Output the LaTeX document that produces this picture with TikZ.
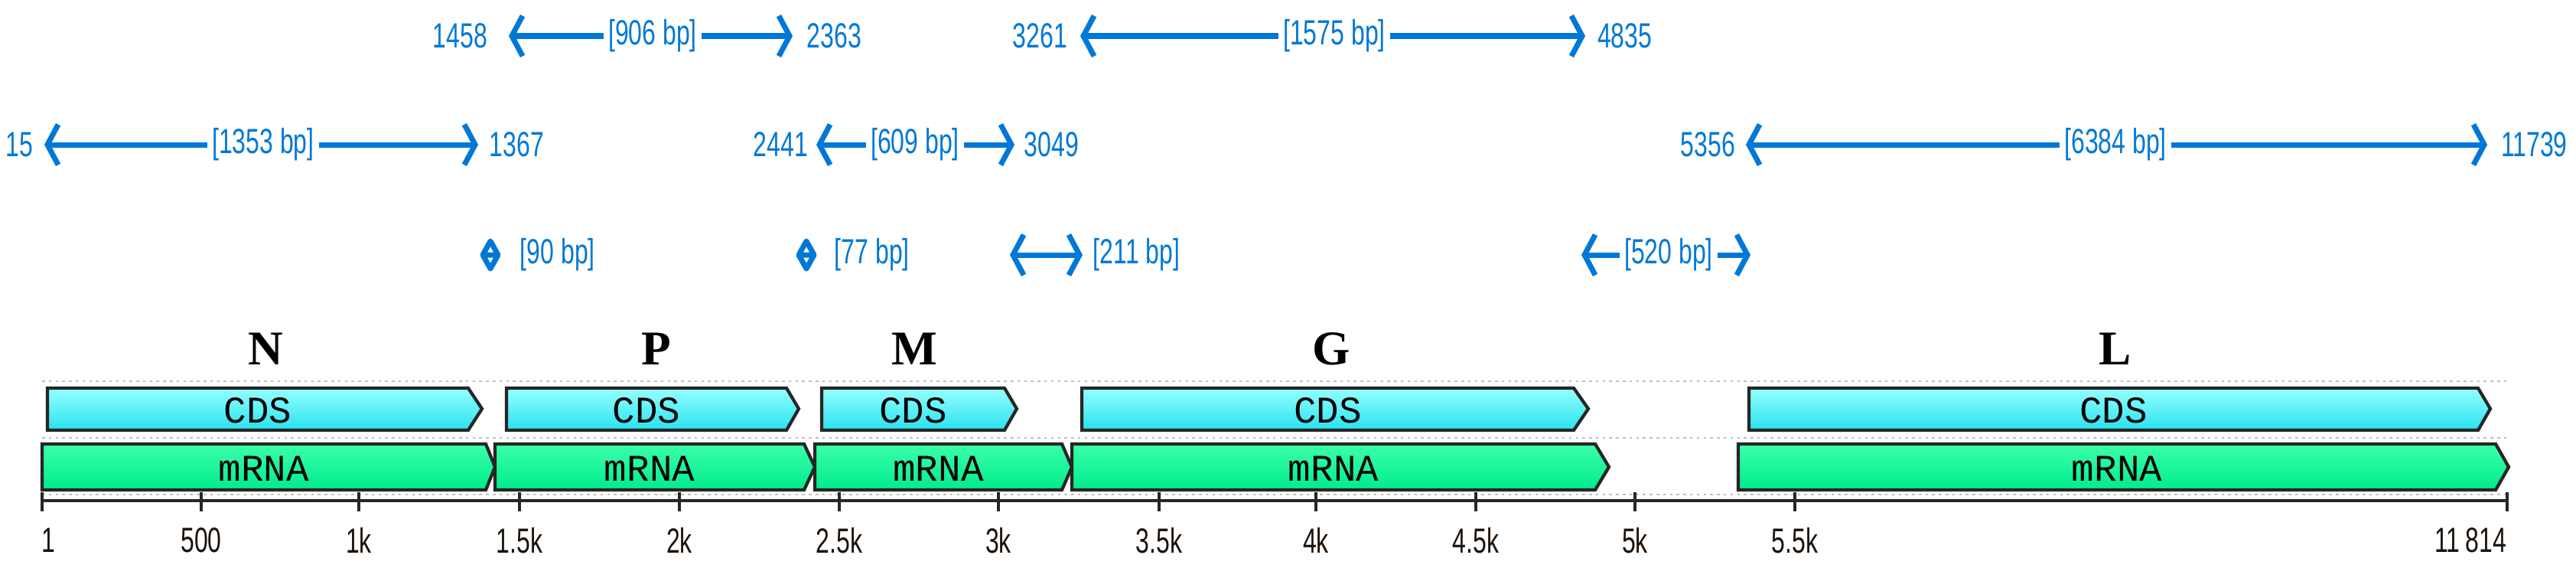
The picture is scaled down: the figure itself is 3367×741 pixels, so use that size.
\documentclass[tikz,border=0pt]{standalone}
\usepackage{fontspec}
\usetikzlibrary{arrows.meta}
\newfontfamily\nar[FakeStretch=0.7]{Liberation Sans}
\newfontfamily\gserif{Liberation Serif}
\newfontfamily\gmono{Liberation Mono}
\definecolor{annblue}{RGB}{0,120,215}
\definecolor{cdstop}{RGB}{150,255,255}
\definecolor{cdsbot}{RGB}{40,225,240}
\definecolor{mrnatop}{RGB}{60,255,170}
\definecolor{mrnabot}{RGB}{0,235,140}
\tikzset{
  ann/.style={draw=annblue,line width=2pt,arrows={-Straight Barb[length=4pt,width=15pt,line width=2pt]}},
  anntxt/.style={font=\nar\fontsize{13pt}{15pt}\selectfont,text=annblue,inner sep=1.5pt},
  ticktxt/.style={font=\nar\fontsize{13pt}{15pt}\selectfont,text=black!85!brown,inner sep=0pt},
  gene/.style={font=\gserif\bfseries\fontsize{18pt}{20pt}\selectfont,inner sep=0pt},
  bartxt/.style={font=\gmono\fontsize{14pt}{16pt}\selectfont,inner sep=0pt},
  cds/.style={draw=black!85,line width=1.2pt,top color=cdstop,bottom color=cdsbot},
  mrna/.style={draw=black!85,line width=1.2pt,top color=mrnatop,bottom color=mrnabot},
  guide/.style={draw=gray!50,line width=0.8pt,dash pattern=on 1pt off 1.5pt},
}
\begin{document}
\begin{tikzpicture}[x=0.01cm,y=-0.01cm]
\useasboundingbox (0,0) rectangle (3367,741);
% guide lines
\foreach \yy in {498,572,646} \draw[guide] (55,\yy) -- (3280,\yy);
% CDS bars: xs, xe, tip
\foreach \xs/\xe/\xt/\nm in {62/612/630/cN,662/1028/1044/cP,1074/1313/1329/cM,1414/2057/2076/cG,2286/3239/3255/cL}{
  \draw[cds] (\xs,507) -- (\xe,507) -- (\xt,534) -- (\xe,562) -- (\xs,562) -- cycle;
  \node[bartxt] (\nm) at ({(\xs+\xe)/2},536) {CDS};
}
\foreach \xs/\xe/\xt/\nm in {55/635/647/mN,647/1051/1065/mP,1065/1388/1401/mM,1401/2085/2103/mG,2272/3262/3279/mL}{
  \draw[mrna] (\xs,580) -- (\xe,580) -- (\xt,610) -- (\xe,640) -- (\xs,640) -- cycle;
  \node[bartxt] (\nm) at ({(\xs+\xe)/2},612) {mRNA};
}
% gene names
\node[gene] (gN) at (347,456) {N};
\node[gene] (gP) at (858,456) {P};
\node[gene] (gM) at (1195,456) {M};
\node[gene] (gG) at (1740,456) {G};
\node[gene] (gL) at (2765,456) {L};
% axis
\draw[black!85,line width=1.3pt] (55,654) -- (3277,654);
\foreach \tx/\tl/\nm in {263/500/t2,469/1k/t3,679/1.5k/t4,888/2k/t5,1097/2.5k/t6,1305/3k/t7,1515/3.5k/t8,1720/4k/t9,1929/4.5k/t10,2137/5k/t11,2346/5.5k/t12}{
  \draw[black!85,line width=1.2pt] (\tx,643) -- (\tx,668);
  \node[ticktxt] (\nm) at (\tx,706) {\tl};
}
\draw[black!85,line width=1.2pt] (55,643) -- (55,668);
\draw[black!85,line width=1.2pt] (3277,643) -- (3277,668);
\node[ticktxt] (t1) at (63,706) {1};
\node[ticktxt,anchor=east] (t13) at (3277,706) {11\,814};
% row 1
\node[anntxt,anchor=east] (a1) at (643,47) {1458};
\node[anntxt,anchor=west] (a2) at (1049,47) {2363};
\node[anntxt] (a3) at (853,47) {[906 bp]};
\coordinate (a1l) at (665,47); \coordinate (a1r) at (1036,47);
\draw[ann] (a3.west) -- (a1l); \draw[ann] (a3.east) -- (a1r);
\node[anntxt,anchor=east] (b1) at (1401,47) {3261};
\node[anntxt,anchor=west] (b2) at (2082,47) {4835};
\node[anntxt] (b3) at (1744,47) {[1575 bp]};
\coordinate (b1l) at (1412,47); \coordinate (b1r) at (2072,47);
\draw[ann] (b3.west) -- (b1l); \draw[ann] (b3.east) -- (b1r);
% row 2
\node[anntxt,anchor=east] (c1) at (49,189) {15};
\node[anntxt,anchor=west] (c2) at (634,189) {1367};
\node[anntxt] (c3) at (344,189) {[1353 bp]};
\coordinate (c1l) at (58,189); \coordinate (c1r) at (625,189);
\draw[ann] (c3.west) -- (c1l); \draw[ann] (c3.east) -- (c1r);
\node[anntxt,anchor=east] (d1) at (1062,189) {2441};
\node[anntxt,anchor=west] (d2) at (1333,189) {3049};
\node[anntxt] (d3) at (1196,189) {[609 bp]};
\coordinate (d1l) at (1067,189); \coordinate (d1r) at (1326,189);
\draw[ann] (d3.west) -- (d1l); \draw[ann] (d3.east) -- (d1r);
\node[anntxt,anchor=east] (e1) at (2274,189) {5356};
\node[anntxt,anchor=west] (e2) at (3263,189) {11739};
\node[anntxt] (e3) at (2765,189) {[6384 bp]};
\coordinate (e1l) at (2282,189); \coordinate (e1r) at (3251,189);
\draw[ann] (e3.west) -- (e1l); \draw[ann] (e3.east) -- (e1r);
% row 3
\foreach \dx/\nm in {641/dA,1054/dB}{
  \coordinate (\nm) at (\dx,333);
  \draw[annblue,line width=2pt,line join=round] (\dx-10,333) -- (\dx,315) -- (\dx+10,333) -- (\dx,351) -- cycle (\dx-10,333) -- (\dx+10,333);
}
\node[anntxt,anchor=west] (f1) at (674,333) {[90 bp]};
\node[anntxt,anchor=west] (f2) at (1085,333) {[77 bp]};
\coordinate (g1l) at (1320,333); \coordinate (g1r) at (1415,333);
\draw[ann,{Straight Barb[length=4pt,width=15pt,line width=2pt]}-{Straight Barb[length=4pt,width=15pt,line width=2pt]}] (g1l) -- (g1r);
\node[anntxt,anchor=west] (g1) at (1423,333) {[211 bp]};
\node[anntxt] (h1) at (2181,333) {[520 bp]};
\coordinate (h1l) at (2067,333); \coordinate (h1r) at (2288,333);
\draw[ann] (h1.west) -- (h1l); \draw[ann] (h1.east) -- (h1r);
\end{tikzpicture}
\end{document}
